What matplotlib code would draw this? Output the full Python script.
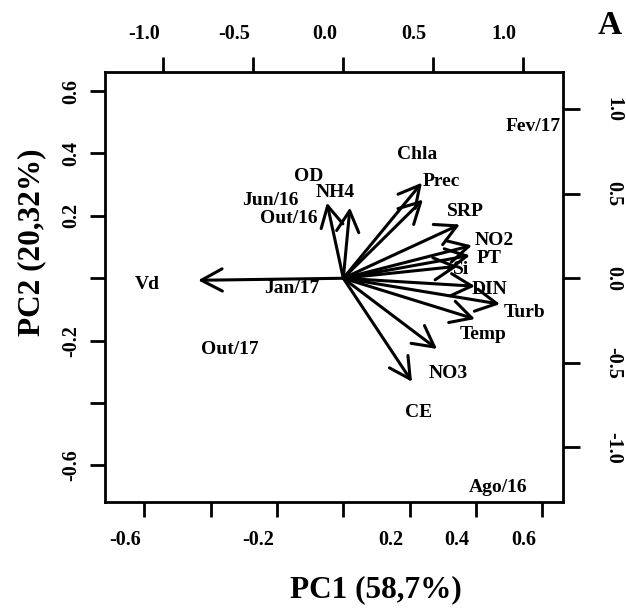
import numpy as np
import matplotlib
matplotlib.use("Agg")
import matplotlib.pyplot as plt
import matplotlib.transforms as mtransforms

plt.rcParams['font.family'] = ['Liberation Serif', 'DejaVu Serif']
plt.rcParams['font.weight'] = 'bold'

# scores of the sampling months (PC1, PC2)
meses = ["Fev/17", "Ago/16", "Jun/16", "Out/16", "Jan/17", "Out/17"]
pc1 = [0.571, 0.466, -0.221, -0.163, -0.155, -0.341]
pc2 = [0.485, -0.669, 0.248, 0.190, -0.034, -0.227]

# loadings of the variables (arrow tips) and where their names go
variaveis = ["Vd", "OD", "NH4", "Chla", "Prec", "SRP", "NO2", "PT", "Si",
             "DIN", "Turb", "Temp", "NO3", "CE"]
load1 = [-0.807, -0.091, 0.037, 0.437, 0.443, 0.648, 0.715, 0.704, 0.637,
         0.732, 0.871, 0.732, 0.521, 0.382]
load2 = [-0.012, 0.447, 0.418, 0.565, 0.465, 0.318, 0.194, 0.135, 0.071,
         -0.047, -0.153, -0.241, -0.418, -0.612]
lab1 = [-1.091, -0.191, -0.046, 0.409, 0.543, 0.676, 0.837, 0.809, 0.654,
        0.815, 1.009, 0.776, 0.582, 0.420]
lab2 = [-0.035, 0.600, 0.506, 0.729, 0.571, 0.394, 0.224, 0.118, 0.053,
        -0.065, -0.200, -0.335, -0.565, -0.794]

escala = 1.845  # loadings axis / scores axis
xlim = (-0.718, 0.662)
ylim = (-0.717, 0.661)

fig = plt.figure(figsize=(6.26, 6.15), dpi=100)
rect = [105/626, 1-502/615, 458/626, 430/615]
ax = fig.add_axes(rect)
ax2 = fig.add_axes(rect, frameon=False)

ax.set_xlim(xlim)
ax.set_ylim(ylim)
ax2.set_xlim(xlim[0]*escala, xlim[1]*escala)
ax2.set_ylim(ylim[0]*escala, ylim[1]*escala)

for s in ax.spines.values():
    s.set_linewidth(2)

# scores eixo inferior / esquerdo
ax.set_xticks([-0.6, -0.4, -0.2, 0, 0.2, 0.4, 0.6])
ax.set_xticklabels(["-0.6", "", "-0.2", "", "0.2", "0.4", "0.6"])
ax.set_yticks([-0.6, -0.4, -0.2, 0, 0.2, 0.4, 0.6])
ax.set_yticklabels(["-0.6", "", "-0.2", "", "0.2", "0.4", "0.6"], rotation=90, va='center')
ax.tick_params(axis='x', length=11, width=2, pad=9, labelsize=14.5)
ax.tick_params(axis='y', length=11, width=2, pad=6, labelsize=14.5)

# loadings eixo superior / direito
ax2.xaxis.tick_top()
ax2.yaxis.tick_right()
ax2.set_xticks([-1.0, -0.5, 0.0, 0.5, 1.0])
ax2.set_xticklabels(["-1.0", "-0.5", "0.0", "0.5", "1.0"])
ax2.set_yticks([-1.0, -0.5, 0.0, 0.5, 1.0])
ax2.set_yticklabels(["-1.0", "-0.5", "0.0", "0.5", "1.0"], rotation=-90, va='center')
ax2.tick_params(axis='x', length=11, width=2, pad=9, labelsize=14.5)
ax2.tick_params(axis='y', length=12, width=2, pad=17, labelsize=14.5)

# rotulos horizontais ficam um pouco a esquerda das marcas
desl_x = mtransforms.ScaledTranslation(-0.19, 0, fig.dpi_scale_trans)
for lab in ax.get_xticklabels() + ax2.get_xticklabels():
    lab.set_transform(lab.get_transform() + desl_x)

for m, x, y in zip(meses, pc1, pc2):
    ax.text(x, y, m, ha='center', va='center', fontsize=14, fontweight='bold')

for v, x, y, lx, ly in zip(variaveis, load1, load2, lab1, lab2):
    ax2.annotate("", xy=(x, y), xytext=(0, 0),
                 arrowprops=dict(arrowstyle="->,head_length=0.75,head_width=0.4",
                                 lw=2.2, color='black', shrinkA=0, shrinkB=0,
                                 mutation_scale=20))
    ax2.text(lx, ly, v, ha='center', va='center', fontsize=14, fontweight='bold')

fig.text(376/626, 1-590/615, "PC1 (58,7%)", ha='center', va='center', fontsize=22.5, fontweight='bold')
fig.text(32/626, 1-242/615, "PC2 (20,32%)", ha='center', va='center', rotation=90, fontsize=22.5, fontweight='bold')
fig.text(610/626, 1-25/615, "A", ha='center', va='center', fontsize=24, fontweight='bold')

fig.savefig("out.png", dpi=100)
